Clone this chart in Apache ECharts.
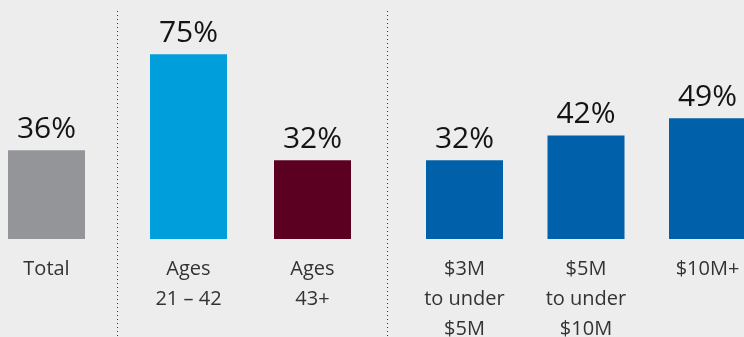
<!DOCTYPE html>
<html>
<head>
<meta charset="utf-8">
<script src="https://cdn.jsdelivr.net/npm/echarts@6/dist/echarts.min.js"></script>
<style>
  html, body { margin: 0; padding: 0; background: #ededed; }
  #chart { width: 744px; height: 337px; }
</style>
</head>
<body>
<div id="chart"></div>
<script>
// Share of respondents, by group
const totalCats = ['Total'];
const totalVals = [36];
const ageCats = ['Ages\n21 – 42', 'Ages\n43+'];
const ageVals = [75, 32];
const wealthCats = ['$3M\nto under\n$5M', '$5M\nto under\n$10M', '$10M+'];
const wealthVals = [32, 42, 49];

const totalColors = ['#939598'];
const ageColors = ['#009fdb', '#5c0022'];
const wealthColors = ['#0060a9', '#0060a9', '#0060a9'];

const FONT = '"Open Sans", "Noto Sans", sans-serif';
const TOP = 42, BOTTOM = 98, Y_MAX = 80;

// The last panel runs past the right edge, so its third bar is cut off
const grids = [
  { left: 0, width: 93 },
  { left: 126.5, width: 248 },
  { left: 403.75, right: -24.25 }
].map(g => Object.assign(g, {
  top: TOP, bottom: BOTTOM, containLabel: false, outerBoundsMode: 'none'
}));

const groups = [
  [totalCats, totalVals, totalColors],
  [ageCats, ageVals, ageColors],
  [wealthCats, wealthVals, wealthColors]
];

const xAxis = groups.map((g, i) => ({
  type: 'category',
  gridIndex: i,
  data: g[0],
  axisLine: { show: false },
  axisTick: { show: false },
  axisLabel: {
    interval: 0,
    margin: 15,
    fontFamily: FONT,
    fontSize: 20,
    lineHeight: 30,
    color: '#333333',
    verticalAlign: 'top'
  }
}));

const yAxis = groups.map((g, i) => ({
  type: 'value',
  gridIndex: i,
  min: 0,
  max: Y_MAX,
  show: false,
  splitLine: { show: false }
}));

const series = groups.map((g, i) => ({
  type: 'bar',
  xAxisIndex: i,
  yAxisIndex: i,
  barWidth: 77,
  data: g[1].map((v, j) => ({ value: v, itemStyle: { color: g[2][j] } })),
  label: {
    show: true,
    position: 'top',
    distance: 6,
    formatter: '{c}%',
    fontFamily: FONT,
    fontSize: 30,
    color: '#141414'
  },
  silent: true
}));

const chart = echarts.init(document.getElementById('chart'), null, { renderer: 'canvas' });
chart.setOption({
  backgroundColor: '#ededed',
  animation: false,
  grid: grids,
  xAxis: xAxis,
  yAxis: yAxis,
  series: series,
  graphic: [117.5, 387.5].map(x => ({
    type: 'line',
    shape: { x1: x, y1: 11, x2: x, y2: 337 },
    style: { stroke: '#333333', lineWidth: 1, lineDash: [1, 3] },
    silent: true
  }))
});
</script>
</body>
</html>
